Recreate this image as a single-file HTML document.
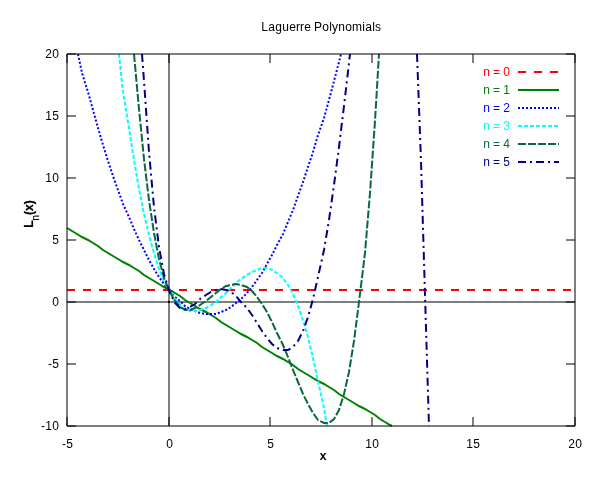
<!DOCTYPE html>
<html lang="en"><head><meta charset="utf-8"><title>Laguerre Polynomials</title>
<style>html,body{margin:0;padding:0;background:#fff}body{width:600px;height:480px;overflow:hidden}svg{display:block}text{font-family:"Liberation Sans",Arial,sans-serif;font-size:12px;fill:#000}.b{font-weight:bold}</style></head><body>
<svg width="600" height="480" viewBox="0 0 600 480">
<rect width="600" height="480" fill="#fff"/>
<g fill="none" stroke="#000" stroke-width="1">
<path d="M67,426h9M575,426h-9M67,364h9M575,364h-9M67,302h9M575,302h-9M67,240h9M575,240h-9M67,178h9M575,178h-9M67,116h9M575,116h-9M67,54h9M575,54h-9M67,426v-9M67,54v9M169,426v-9M169,54v9M270,426v-9M270,54v9M372,426v-9M372,54v9M473,426v-9M473,54v9M575,426v-9M575,54v9"/>
<path d="M169,54V426"/><path d="M67,302H575"/>
</g>
<rect x="168" y="301" width="2" height="2" fill="#000"/>
<text x="41 45.16 52.16" y="430">-10</text>
<text x="48 52.16" y="368">-5</text>
<text x="52.16" y="306">0</text>
<text x="52.16" y="244">5</text>
<text x="45.16 52.16" y="182">10</text>
<text x="45.16 52.16" y="120">15</text>
<text x="45.16 52.16" y="58">20</text>
<text x="62 66.16" y="448">-5</text>
<text x="166.16" y="448">0</text>
<text x="267.16" y="448">5</text>
<text x="365.16 372.16" y="448">10</text>
<text x="466.16 473.16" y="448">15</text>
<text x="568.16 575.16" y="448">20</text>
<text x="261.16 268.16 275.16 282.16 289.16 296 300 304.16 310.83 314 322.16 329.17 332 338.16 345.16 352 362.17 365.16 372.17 375" y="31">Laguerre Polynomials</text>
<text class="b" x="323" y="460" text-anchor="middle">x</text>
<text class="b" transform="translate(33.1,228.3) rotate(-90)" stroke="#000" stroke-width="0.25"><tspan x="0.5" y="0">L</tspan><tspan x="7.5" y="6" font-size="10.4" font-weight="normal" stroke-width="0.15">n</tspan><tspan x="13.4 17.4 24" y="0">(x)</tspan></text>
<g fill="none" stroke-width="2" stroke-linejoin="miter">
<path stroke="#ff0000" stroke-dasharray="8 8" d="M67,290 L72,290 L77,290 L82,290 L88,290 L93,290 L98,290 L103,290 L108,290 L113,290 L118,290 L123,290 L129,290 L134,290 L139,290 L144,290 L149,290 L154,290 L159,290 L164,290 L170,290 L175,290 L180,290 L185,290 L190,290 L195,290 L200,290 L206,290 L211,290 L216,290 L221,290 L226,290 L231,290 L236,290 L241,290 L247,290 L252,290 L257,290 L262,290 L267,290 L272,290 L277,290 L283,290 L288,290 L293,290 L298,290 L303,290 L308,290 L313,290 L318,290 L324,290 L329,290 L334,290 L339,290 L344,290 L349,290 L354,290 L359,290 L365,290 L370,290 L375,290 L380,290 L385,290 L390,290 L395,290 L401,290 L406,290 L411,290 L416,290 L421,290 L426,290 L431,290 L436,290 L442,290 L447,290 L452,290 L457,290 L462,290 L467,290 L472,290 L478,290 L483,290 L488,290 L493,290 L498,290 L503,290 L508,290 L513,290 L519,290 L524,290 L529,290 L534,290 L539,290 L544,290 L549,290 L554,290 L560,290 L565,290 L570,290 L575,290"/>
<path stroke="#ff0000" stroke-dasharray="8 8" d="M518,72H559"/>
<path stroke="#008000" d="M67,228 L72,231 L77,234 L82,237 L88,240 L93,243 L98,246 L103,250 L108,253 L113,256 L118,259 L123,262 L129,265 L134,268 L139,271 L144,275 L149,278 L154,281 L159,284 L164,287 L170,290 L175,293 L180,296 L185,300 L190,303 L195,306 L200,309 L206,312 L211,315 L216,318 L221,322 L226,325 L231,328 L236,331 L241,334 L247,337 L252,340 L257,343 L262,347 L267,350 L272,353 L277,356 L283,359 L288,362 L293,365 L298,369 L303,372 L308,375 L313,378 L318,381 L324,384 L329,387 L334,390 L339,394 L344,397 L349,400 L354,403 L359,406 L365,409 L370,412 L375,415 L380,419 L385,422 L390,425 L392,426"/>
<path stroke="#008000" d="M518,90H559"/>
<path stroke="#0000ff" stroke-dasharray="2 2" d="M78,54 L82,73 L88,92 L93,110 L98,128 L103,145 L108,161 L113,176 L118,190 L123,204 L129,217 L134,229 L139,240 L144,250 L149,260 L154,269 L159,277 L164,284 L170,291 L175,297 L180,301 L185,306 L190,309 L195,311 L200,313 L206,314 L211,314 L216,314 L221,312 L226,310 L231,307 L236,303 L241,299 L247,293 L252,287 L257,280 L262,273 L267,264 L272,255 L277,245 L283,234 L288,222 L293,210 L298,196 L303,182 L308,167 L313,152 L318,135 L324,118 L329,100 L334,81 L339,62 L341,54"/>
<path stroke="#0000ff" stroke-dasharray="2 2" d="M518,108H559"/>
<path stroke="#00ffff" stroke-dasharray="4 2" d="M119,54 L123,92 L129,128 L134,160 L139,189 L144,214 L149,235 L154,253 L159,269 L164,281 L170,291 L175,299 L180,305 L185,309 L190,311 L195,311 L200,310 L206,308 L211,305 L216,302 L221,297 L226,293 L231,288 L236,283 L241,279 L247,275 L252,272 L257,270 L262,268 L267,268 L272,270 L277,273 L283,278 L288,285 L293,294 L298,306 L303,320 L308,337 L313,358 L318,381 L324,408 L327,426"/>
<path stroke="#00ffff" stroke-dasharray="4 2" d="M518,126H559"/>
<path stroke="#0a693c" stroke-dasharray="8 2" d="M134,54 L139,109 L144,159 L149,200 L154,233 L159,259 L164,278 L170,292 L175,301 L180,307 L185,310 L190,310 L195,308 L200,305 L206,301 L211,297 L216,293 L221,289 L226,286 L231,285 L236,284 L241,285 L247,287 L252,291 L257,297 L262,304 L267,312 L272,322 L277,333 L283,345 L288,357 L293,370 L298,382 L303,394 L308,404 L313,413 L318,420 L324,423 L329,423 L334,419 L339,410 L344,394 L349,372 L354,341 L359,302 L365,253 L370,193 L375,121 L379,54"/>
<path stroke="#0a693c" stroke-dasharray="8 2" d="M518,144H559"/>
<path stroke="#00008b" stroke-dasharray="8 4 2 4" d="M142,54 L144,81 L149,152 L154,207 L159,247 L164,274 L170,293 L175,303 L180,308 L185,309 L190,307 L195,304 L200,299 L206,295 L211,292 L216,290 L221,289 L226,290 L231,292 L236,296 L241,302 L247,308 L252,315 L257,323 L262,331 L267,338 L272,344 L277,348 L283,350 L288,350 L293,347 L298,341 L303,331 L308,317 L313,299 L318,277 L324,250 L329,220 L334,185 L339,147 L344,106 L349,63 L350,54 M417,54 L421,161 L426,328 L429,426"/>
<path stroke="#00008b" stroke-dasharray="8 4 2 4" d="M518,162H559"/>
</g>
<text x="483.16 489.83 493 499.83 503.16" y="76" style="fill:#ff0000">n = 0</text>
<text x="483.16 489.83 493 499.83 503.16" y="94" style="fill:#008000">n = 1</text>
<text x="483.16 489.83 493 499.83 503.16" y="112" style="fill:#0000ff">n = 2</text>
<text x="483.16 489.83 493 499.83 503.16" y="130" style="fill:#00ffff">n = 3</text>
<text x="483.16 489.83 493 499.83 503.16" y="148" style="fill:#0a693c">n = 4</text>
<text x="483.16 489.83 493 499.83 503.16" y="166" style="fill:#00008b">n = 5</text>
<path fill="none" stroke="#000" stroke-width="1" d="M67,54V426H575V54Z"/>
</svg></body></html>
